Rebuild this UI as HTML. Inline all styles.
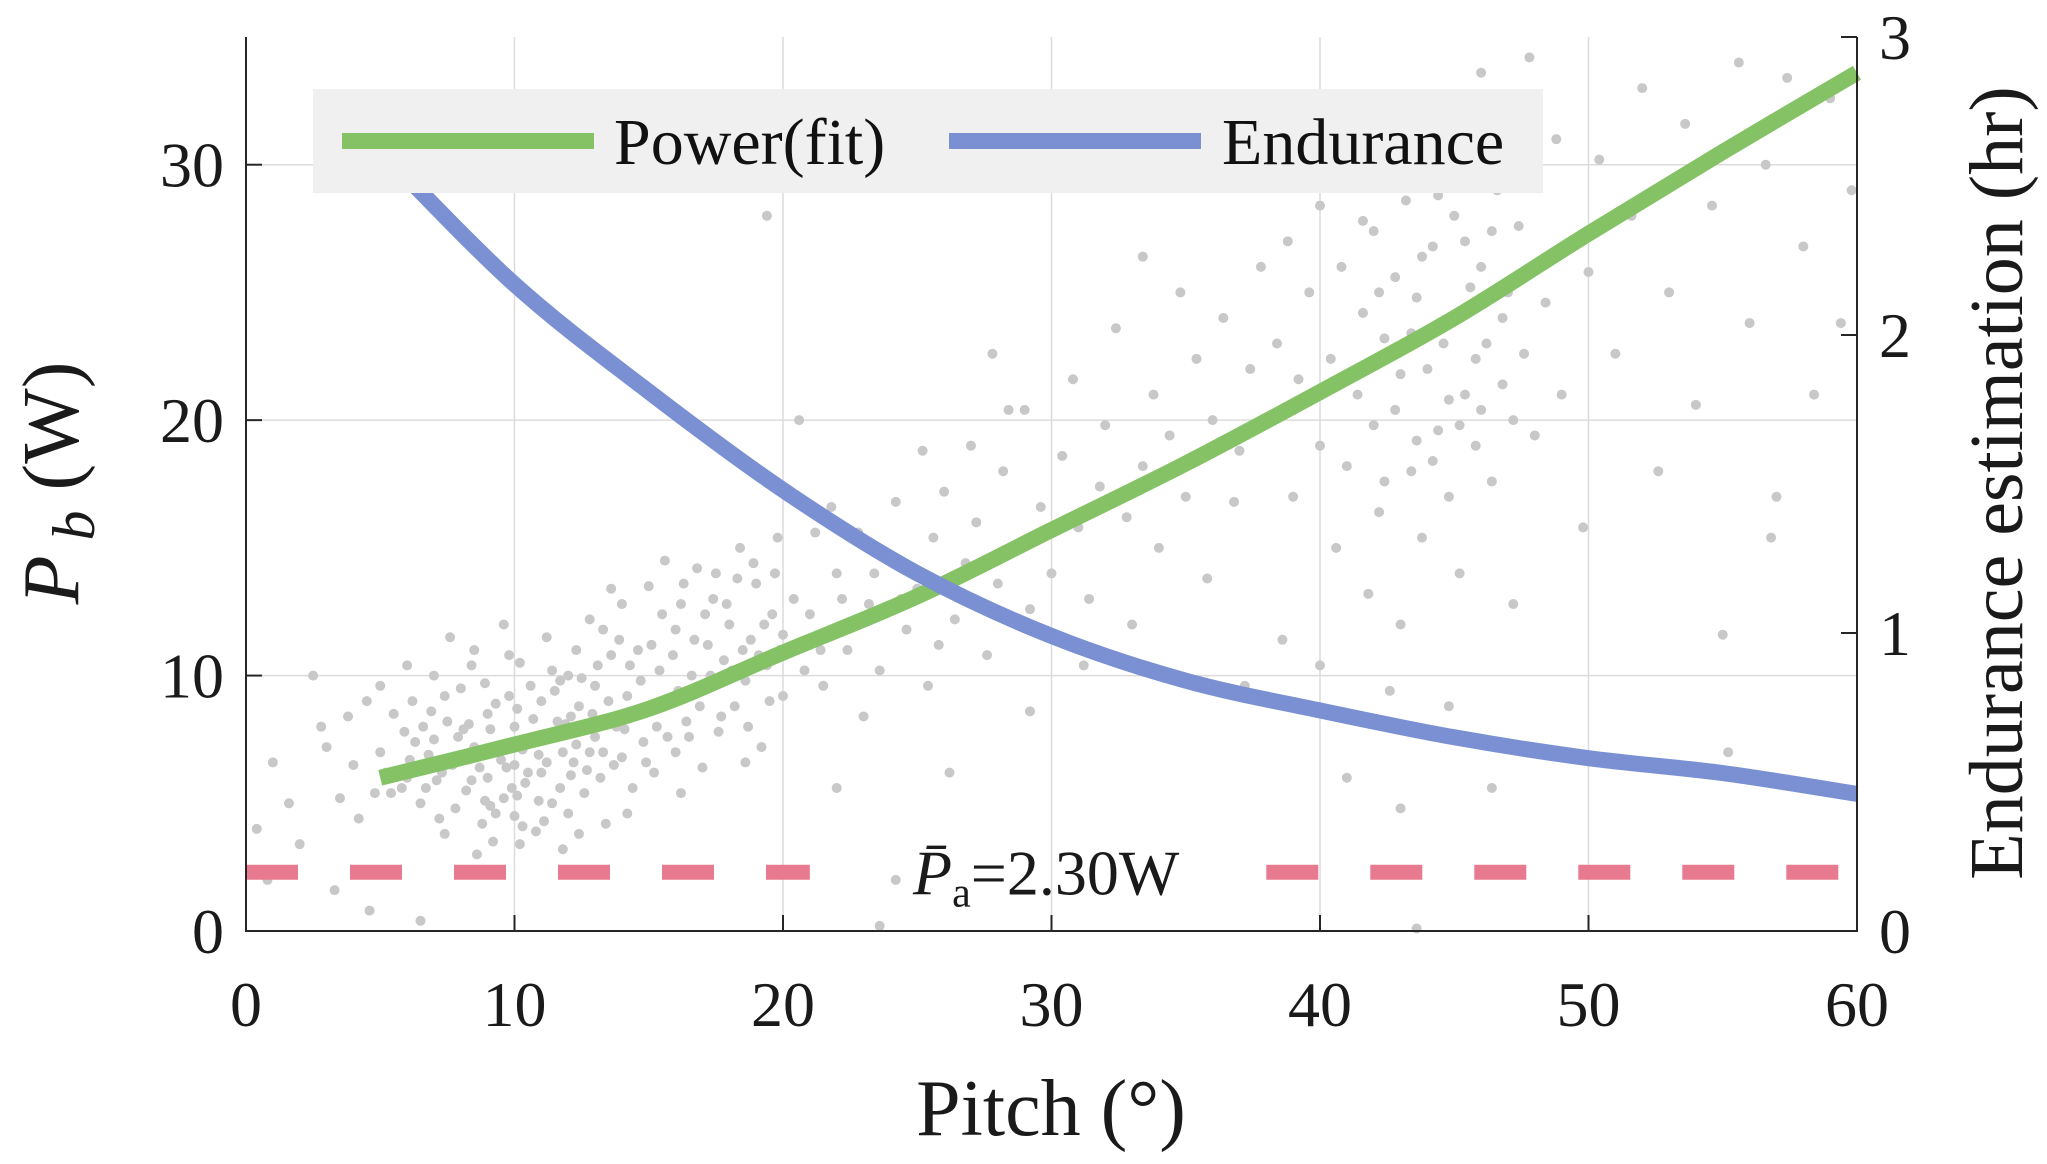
<!DOCTYPE html>
<html><head><meta charset="utf-8"><style>
html,body{margin:0;padding:0;background:#fff;}
svg{display:block;font-family:"Liberation Serif","Times New Roman",serif;}
text{font-family:"Liberation Serif","Times New Roman",serif;}
</style></head><body>
<svg id="chart" width="2047" height="1164" viewBox="0 0 2047 1164" xmlns="http://www.w3.org/2000/svg" font-family="Liberation Serif, serif">
<g id="grid"></g>
<g id="scatter"></g>
<g id="lines"></g>
<g id="axes"></g>
<g id="legend"></g>
</svg>
<script>
const xTicks=[0,10,20,30,40,50,60];
const yTicks=[0,10,20,30];
const y2Ticks=[0,1,2,3];
const fitPitch=[5,10,15,20,25,30,35,40,45,50,55,60];
const fitPower=[6.0,7.3,8.7,10.9,13.1,15.7,18.3,21.1,24.0,27.3,30.5,33.6];
const endPitch=[5,10,15,20,25,30,35,40,45,50,55,60];
const endHours=[2.62,2.17,1.81,1.48,1.20,0.99,0.84,0.74,0.65,0.58,0.53,0.46];
const avgPower=2.30;
const scatterPts=[[5,7],[5.5,8.5],[6,6],[6.2,9],[6.5,5],[7,7.5],[7,10],[7.3,6.2],[7.5,8.2],[7.8,4.8],[8,6.8],[8,9.5],[8.2,5.5],[8.5,7.2],[8.5,11],[8.8,4.2],[9,6],[9,8.5],[9.2,3.5],[9.4,7],[9.6,5.2],[9.8,9.2],[10,4.5],[10,6.5],[10,8],[10.2,10.5],[10.4,5.8],[10.6,7.4],[10.8,3.9],[11,9],[11,6.2],[11.2,11.5],[11.4,5],[11.6,8.2],[11.8,7],[12,4.6],[12,10],[12.2,6.6],[12.4,8.8],[12.6,5.4],[12.8,12.2],[13,7.6],[13,9.6],[13.2,6],[13.4,4.2],[13.6,10.8],[13.8,8],[14,6.8],[14,12.8],[14.2,9.2],[14.4,5.6],[14.6,11],[14.8,7.4],[15,8.6],[15,13.5],[15.2,6.2],[15.4,10.2],[15.6,14.5],[15.8,9],[16,7],[16,11.8],[16.2,12.8],[16.4,8.2],[16.6,10],[16.8,14.2],[17,6.4],[17,9.4],[17.2,11.2],[17.4,13],[17.6,7.8],[17.8,10.6],[18,12],[18.2,8.8],[18.4,15],[18.6,9.8],[18.8,11.4],[19,13.6],[19.2,7.2],[19.4,10.4],[19.6,12.4],[19.8,15.4],[20,9.2],[20,11.6],[4,6.5],[4.5,9],[3.5,5.2],[3,7.2],[2.5,10],[4.2,4.4],[5.8,5.6],[6.6,8],[7.6,11.5],[8.6,3],[9.6,12],[10.6,9.6],[11.8,3.2],[12.8,7],[13.6,13.4],[6.8,6.9],[7.9,7.6],[9.1,7.9],[10.3,7.1],[11.3,7.7],[12.1,8.4],[8.3,8.1],[9.7,6.4],[10.9,6.9],[11.7,9.8],[6.3,7.4],[7.1,5.9],[8.9,5.1],[10.1,5.3],[11.1,4.3],[9.3,4.6],[12.3,11],[13.3,11.8],[14.3,10.4],[5.2,6.2],[0.4,4],[1,6.6],[0.8,2],[1.6,5],[2,3.4],[3.3,1.6],[4.6,0.8],[6.5,0.4],[2.8,8],
[5.4,5.4],[5.9,7.8],[6.1,6.7],[6.7,5.6],[6.9,8.6],[7.2,4.4],[7.4,9.2],[7.7,6.5],[8.1,7.9],[8.4,5.9],[8.7,6.4],[8.9,9.7],[9.1,4.9],[9.3,8.9],[9.5,6.7],[9.9,5.6],[10.1,8.7],[10.3,4.1],[10.5,6.2],[10.7,8.3],[10.9,5.1],[11.2,6.6],[11.5,9.4],[11.7,5.6],[11.9,8.1],[12.1,6.1],[12.3,7.3],[12.5,9.9],[12.7,6.3],[12.9,8.5],[13.1,10.4],[13.3,7],[13.5,9],[13.7,6.5],[13.9,11.4],[14.1,7.9],[14.5,8.6],[14.7,9.8],[14.9,6.6],[15.1,11.2],[15.3,8],[15.5,12.4],[15.7,7.6],[15.9,10.8],[16.1,9.4],[16.3,13.6],[16.5,7.6],[16.7,11.4],[16.9,8.8],[17.1,12.4],[17.3,10],[17.5,14],[17.7,8.4],[17.9,12.8],[18.1,10.2],[18.3,13.8],[18.5,11],[18.7,8],[18.9,14.4],[19.1,10.8],[19.3,12],[19.5,9],[19.7,14],[19.9,11],[8.4,10.4],[9.8,10.8],[11.4,10.2],[7.4,3.8],[10.2,3.4],[12.4,3.8],[6,10.4],[5,9.6],[4.8,5.4],[3.8,8.4],[20.4,13],[21.4,11],[22.2,13],[23.4,14],[24.4,13],[25.8,11.2],[20.8,10.2],[21.8,16.6],[22.6,12],[18.6,6.6],[16.2,5.4],[14.2,4.6],
[21,12.4],[21.5,9.6],[22,14],[22.4,11],[22.8,15.6],[23,8.4],[23.2,12.8],[23.6,10.2],[24,14.6],[24.2,16.8],[24.6,11.8],[25,13.4],[25.4,9.6],[25.6,15.4],[26,17.2],[26.4,12.2],[26.8,14.4],[27,19],[27.2,16],[27.6,10.8],[28,13.6],[28.2,18],[28.6,15],[29,20.4],[29.2,12.6],[29.6,16.6],[30,14],[30.4,18.6],[30.8,21.6],[31,15.8],[31.4,13],[31.8,17.4],[32,19.8],[32.4,23.6],[32.8,16.2],[33,12],[33.4,18.2],[33.8,21],[34,15],[34.4,19.4],[34.8,25],[35,17],[35.4,22.4],[35.8,13.8],[36,20],[36.4,24],[36.8,16.8],[37,18.8],[37.4,22],[37.8,26],[20.6,20],[22,5.6],[24.2,2],[23.6,0.2],[25.2,18.8],[27.8,22.6],[29.2,8.6],[31.2,10.4],[33.4,26.4],[21.2,15.6],[19.4,28],[26.2,6.2],[28.4,20.4],
[38,20],[38.4,23],[38.8,27],[39,17],[39.2,21.6],[39.6,25],[40,19],[40,28.4],[40.4,22.4],[40.6,15],[40.8,26],[41,18.2],[41.2,30],[41.4,21],[41.6,24.2],[41.8,13.2],[42,27.4],[42,19.8],[42.2,16.4],[42.4,23.2],[42.6,31.2],[42.8,25.6],[43,12],[43,21.8],[43.2,28.6],[43.4,18],[43.6,24.8],[43.8,15.4],[44,29.8],[44,22],[44.2,26.8],[44.4,19.6],[44.6,32.4],[44.8,17],[45,24],[45,28],[45.2,14],[45.4,21],[45.6,30.6],[45.8,19],[46,26],[46,33.6],[46.2,23],[46.4,17.6],[46.6,29],[46.8,21.4],[47,31.8],[47,25],[47.2,12.8],[47.4,27.6],[47.6,22.6],[47.8,34.2],[48,19.4],[48,29.6],[48.4,24.6],[48.8,31],[49,21],[49.4,27],[49.8,15.8],[50,25.8],[50.4,30.2],[51,22.6],[51.6,28],[52,33],[41,6],[42.6,9.4],[43.6,0.1],[44.8,8.8],[46.4,5.6],[43,4.8],[40,10.4],[38.6,11.4],[39,30.2],[37.2,9.6],
[42.2,25],[42.8,20.4],[43.4,23.4],[43.8,26.4],[44.2,18.4],[44.6,23],[45.2,19.8],[45.6,25.2],[46,20.4],[46.4,27.4],[46.8,24],[47.2,20],[44.4,28.8],[45.4,27],[43.2,30.4],[41.6,27.8],[42.4,17.6],[45.8,22.4],[44.8,20.8],[43.6,19.2],
[53,25],[53.6,31.6],[54,20.6],[54.6,28.4],[55,11.6],[55.6,34],[56,23.8],[56.6,30],[57,17],[57.4,33.4],[58,26.8],[58.4,21],[59,32.6],[59.4,23.8],[59.8,29],[55.2,7],[52.6,18],[56.8,15.4]];

const NS="http://www.w3.org/2000/svg";
const L=246,R=1857,B=931,T=37;
const X=v=>L+(v-0)/60*(R-L);
const Y=v=>B-v/35*(B-T);
const Y2=v=>B-v/3*(B-T);
const FF='Liberation Serif, Times New Roman, serif';
function mk(tag,attrs,parent,text){const e=document.createElementNS(NS,tag);for(const k in attrs)e.setAttribute(k,attrs[k]);if(tag==='text')e.setAttribute('font-family',FF);if(text!==undefined)e.textContent=text;parent.appendChild(e);return e;}
function smooth(pts){let d=`M${pts[0][0]},${pts[0][1]}`;for(let i=0;i<pts.length-1;i++){const p0=pts[i-1]||pts[i],p1=pts[i],p2=pts[i+1],p3=pts[i+2]||p2;
const c1=[p1[0]+(p2[0]-p0[0])/6,p1[1]+(p2[1]-p0[1])/6],c2=[p2[0]-(p3[0]-p1[0])/6,p2[1]-(p3[1]-p1[1])/6];d+=` C${c1[0]},${c1[1]} ${c2[0]},${c2[1]} ${p2[0]},${p2[1]}`;}return d;}
const grid=document.getElementById('grid'),sc=document.getElementById('scatter'),ln=document.getElementById('lines'),ax=document.getElementById('axes'),lg=document.getElementById('legend');

xTicks.forEach(t=>{const g=mk('line',{x1:X(t),x2:X(t),y1:T,y2:B,stroke:'#dcdcdc','stroke-width':1.5},grid);

});
yTicks.forEach(t=>{const g=mk('line',{x1:L,x2:R,y1:Y(t),y2:Y(t),stroke:'#dcdcdc','stroke-width':1.5},grid);

});

scatterPts.forEach(p=>{const c=mk('circle',{cx:X(p[0]),cy:Y(p[1]),r:5,fill:'#c8c8c8'},sc);

});

[[0,21],[38,60]].forEach(s=>{const d=mk('line',{x1:X(s[0]),x2:X(s[1]),y1:Y(avgPower),y2:Y(avgPower),stroke:'#e87a90','stroke-width':15,'stroke-dasharray':'52 52'},ln);

});
const at=mk('text',{x:X(29.8),y:Y(avgPower)+22,'text-anchor':'middle','font-size':64,fill:'#1a1a1a'},ln);


mk('tspan',{'font-style':'italic'},at,'P\u0304');
mk('tspan',{'font-size':42,dy:12},at,'a');
mk('tspan',{dy:-12},at,'=2.30W');

const pl=mk('path',{d:smooth(fitPitch.map((v,i)=>[X(v),Y(fitPower[i])])),fill:'none',stroke:'#85c265','stroke-width':16},ln);


const el=mk('path',{d:smooth(endPitch.map((v,i)=>[X(v),Y2(endHours[i])])),fill:'none',stroke:'#7a90d2','stroke-width':16},ln);



const a1=mk('path',{d:`M${L},${T}V${B}H${R}V${T}`,fill:'none',stroke:'#262626','stroke-width':2},ax);


xTicks.forEach(t=>{mk('line',{x1:X(t),x2:X(t),y1:B,y2:B-16,stroke:'#262626','stroke-width':2},ax);
const tx=mk('text',{x:X(t),y:B+95,'text-anchor':'middle','font-size':64,fill:'#1a1a1a'},ax,String(t));

});
yTicks.forEach(t=>{mk('line',{x1:L,x2:L+16,y1:Y(t),y2:Y(t),stroke:'#262626','stroke-width':2},ax);
const tx=mk('text',{x:L-22,y:Y(t)+22,'text-anchor':'end','font-size':64,fill:'#1a1a1a'},ax,String(t));

});
y2Ticks.forEach(t=>{mk('line',{x1:R,x2:R-16,y1:Y2(t),y2:Y2(t),stroke:'#262626','stroke-width':2},ax);
const tx=mk('text',{x:R+22,y:Y2(t)+22,'text-anchor':'start','font-size':64,fill:'#1a1a1a'},ax,String(t));

});
const xl=mk('text',{x:1051,y:1135,'text-anchor':'middle','font-size':80,fill:'#1a1a1a'},ax,'Pitch (°)');


const yl=mk('text',{x:0,y:0,'text-anchor':'middle','font-size':80,fill:'#1a1a1a',transform:'translate(78,483) rotate(-90)'},ax);


mk('tspan',{'font-style':'italic'},yl,'P');
mk('tspan',{'font-style':'italic','font-size':60,dy:16},yl,' b');
mk('tspan',{dy:-16},yl,' (W)');
const y2l=mk('text',{x:0,y:0,'text-anchor':'middle','font-size':76,fill:'#1a1a1a',transform:'translate(2022,483) rotate(-90)'},ax,'Endurance estimation (hr)');



const lb=mk('rect',{x:313,y:89,width:1230,height:104,fill:'#f0f0f0'},lg);


const l1=mk('line',{x1:342,x2:594,y1:141,y2:141,stroke:'#85c265','stroke-width':16},lg);


const t1=mk('text',{x:614,y:164,'font-size':66,fill:'#111'},lg,'Power(fit)');


const l2=mk('line',{x1:949,x2:1201,y1:141,y2:141,stroke:'#7a90d2','stroke-width':16},lg);


const t2=mk('text',{x:1222,y:164,'font-size':66,fill:'#111'},lg,'Endurance');


</script>
</body></html>
